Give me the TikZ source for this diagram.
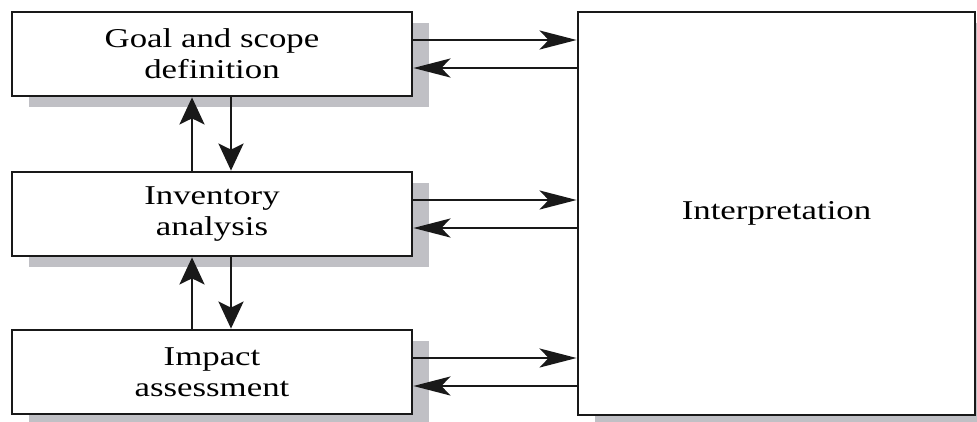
\documentclass[tikz,border=0pt]{standalone}
\usepackage{fontspec}
\setmainfont{Liberation Serif}[FakeStretch=1.28]
\usetikzlibrary{arrows.meta,shadows}
\definecolor{shadowgray}{RGB}{192,192,197}
\definecolor{ink}{RGB}{25,25,25}
\tikzset{
  stagebox/.style={draw=ink, line width=2.8pt, fill=white, minimum width=400pt, minimum height=84pt,
    align=center, inner sep=0pt,
    font=\fontsize{27.2}{31}\selectfont,
    general shadow={shadow xshift=17pt, shadow yshift=-11pt, fill=shadowgray, draw=none}},
  harrow/.style={draw=ink, line width=2.6pt, -{Stealth[length=37pt,width=19pt,inset=9pt]}},
  varrow/.style={draw=ink, line width=2.6pt, -{Stealth[length=27pt,width=25pt,inset=6pt]}}
}
\begin{document}
\begin{tikzpicture}[x=1pt,y=-1pt]
\useasboundingbox (0,0) rectangle (977,421);
\node[stagebox] (goal) at (212,54) {Goal and scope\\definition};
\node[stagebox] (inv) at (212,214) {Inventory\\analysis};
\node[stagebox] (imp) at (212,372) {Impact\\assessment};
\node[stagebox, minimum width=397pt, minimum height=403pt] (interp) at (776.5,213.5) {Interpretation};
% horizontal connectors
\draw[harrow] (goal.east |- 0,40) -- (interp.west |- 0,40);
\draw[harrow] (interp.west |- 0,68) -- (goal.east |- 0,68);
\draw[harrow] (inv.east |- 0,200) -- (interp.west |- 0,200);
\draw[harrow] (interp.west |- 0,228) -- (inv.east |- 0,228);
\draw[harrow] (imp.east |- 0,358) -- (interp.west |- 0,358);
\draw[harrow] (interp.west |- 0,386) -- (imp.east |- 0,386);
% vertical connectors
\draw[varrow] (inv.north -| 192,0) -- (goal.south -| 192,0);
\draw[varrow] (goal.south -| 231,0) -- (inv.north -| 231,0);
\draw[varrow] (imp.north -| 192,0) -- (inv.south -| 192,0);
\draw[varrow] (inv.south -| 231,0) -- (imp.north -| 231,0);
\end{tikzpicture}
\end{document}
